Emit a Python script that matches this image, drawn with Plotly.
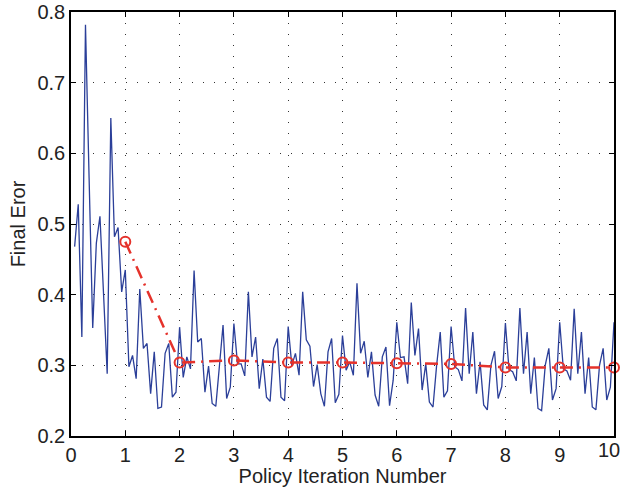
import plotly.graph_objects as go

# Blue series: sampled every 1/15 of a policy iteration (k = 1..150)
blue_steps = list(range(1, 151))
blue_vals = [
    0.468, 0.528, 0.340, 0.782, 0.565, 0.353, 0.473, 0.511, 0.400, 0.288,
    0.650, 0.482, 0.495, 0.404, 0.435, 0.298, 0.314, 0.281, 0.408, 0.324,
    0.331, 0.260, 0.319, 0.239, 0.241, 0.317, 0.331, 0.255, 0.262, 0.354,
    0.283, 0.312, 0.295, 0.434, 0.333, 0.338, 0.262, 0.299, 0.246, 0.242,
    0.299, 0.357, 0.253, 0.269, 0.359, 0.302, 0.302, 0.285, 0.404, 0.312,
    0.340, 0.267, 0.309, 0.255, 0.249, 0.324, 0.338, 0.255, 0.250, 0.355,
    0.300, 0.317, 0.286, 0.404, 0.336, 0.327, 0.270, 0.301, 0.260, 0.242,
    0.319, 0.338, 0.247, 0.259, 0.342, 0.293, 0.305, 0.286, 0.416, 0.317,
    0.334, 0.283, 0.319, 0.258, 0.242, 0.312, 0.326, 0.243, 0.279, 0.361,
    0.311, 0.312, 0.274, 0.389, 0.314, 0.352, 0.265, 0.302, 0.248, 0.241,
    0.300, 0.347, 0.255, 0.264, 0.355, 0.298, 0.294, 0.278, 0.381, 0.288,
    0.347, 0.260, 0.305, 0.244, 0.237, 0.300, 0.320, 0.253, 0.270, 0.360,
    0.294, 0.291, 0.278, 0.381, 0.288, 0.347, 0.260, 0.311, 0.239, 0.236,
    0.300, 0.324, 0.251, 0.267, 0.361, 0.295, 0.292, 0.279, 0.380, 0.288,
    0.347, 0.260, 0.311, 0.241, 0.237, 0.300, 0.324, 0.251, 0.269, 0.361,
]
steps_per_iter = 15
blue_x = [k / steps_per_iter for k in blue_steps]

# Red series: final error per policy iteration
red_x = [1, 2, 3, 4, 5, 6, 7, 8, 9, 10]
red_vals = [0.475, 0.304, 0.307, 0.304, 0.304, 0.303, 0.302, 0.297, 0.297, 0.297]

x_ticks = [0, 1, 2, 3, 4, 5, 6, 7, 8, 9, 10]
x_tick_text = ["0", "1", "2", "3", "4", "5", "6", "7", "8", "9", "10"]
y_ticks = [0.2, 0.3, 0.4, 0.5, 0.6, 0.7, 0.8]
y_tick_text = ["0.2", "0.3", "0.4", "0.5", "0.6", "0.7", "0.8"]

FONT = "Liberation Sans, Arial, sans-serif"
TXT = "#222222"

fig = go.Figure()
fig.add_trace(go.Scatter(
    x=blue_x, y=blue_vals, mode="lines",
    line=dict(color="#2b3f99", width=1.3),
    showlegend=False, cliponaxis=False,
))
fig.add_trace(go.Scatter(
    x=red_x, y=red_vals, mode="lines+markers",
    line=dict(color="#e5322b", width=2.5, dash="13px,6px,2px,6px"),
    marker=dict(symbol="circle-open", size=10, color="#e5322b",
                line=dict(width=2, color="#e5322b")),
    showlegend=False, cliponaxis=False,
))

axis_common = dict(
    showline=True, linecolor="black", linewidth=1.5, mirror="ticks",
    ticks="inside", ticklen=5, tickwidth=1, tickcolor="black",
    showgrid=True, gridcolor="#333333", gridwidth=1, griddash="1px,10px",
    zeroline=False, automargin=False,
    tickfont=dict(family=FONT, size=20, color=TXT),
)

# last x tick label is drawn right-aligned so it stays inside the page
shown_x_text = x_tick_text[:-1] + [""]

fig.update_layout(
    width=622, height=487,
    margin=dict(l=71, r=8, t=12, b=51),
    paper_bgcolor="white", plot_bgcolor="white",
    xaxis=dict(
        range=[0, 10], tickvals=x_ticks, ticktext=shown_x_text,
        title=dict(text="Policy Iteration Number",
                   font=dict(family=FONT, size=20, color=TXT), standoff=2),
        **axis_common,
    ),
    yaxis=dict(
        range=[0.2, 0.8], tickvals=y_ticks, ticktext=y_tick_text,
        title=dict(text="Final Eror",
                   font=dict(family=FONT, size=20, color=TXT), standoff=6),
        **axis_common,
    ),
)

fig.add_annotation(
    x=x_ticks[-1], xref="x", y=0, yref="paper",
    text=x_tick_text[-1], showarrow=False,
    xanchor="right", yanchor="top", xshift=8, yshift=-1,
    font=dict(family=FONT, size=20, color=TXT),
)

fig.write_html("out.html")
